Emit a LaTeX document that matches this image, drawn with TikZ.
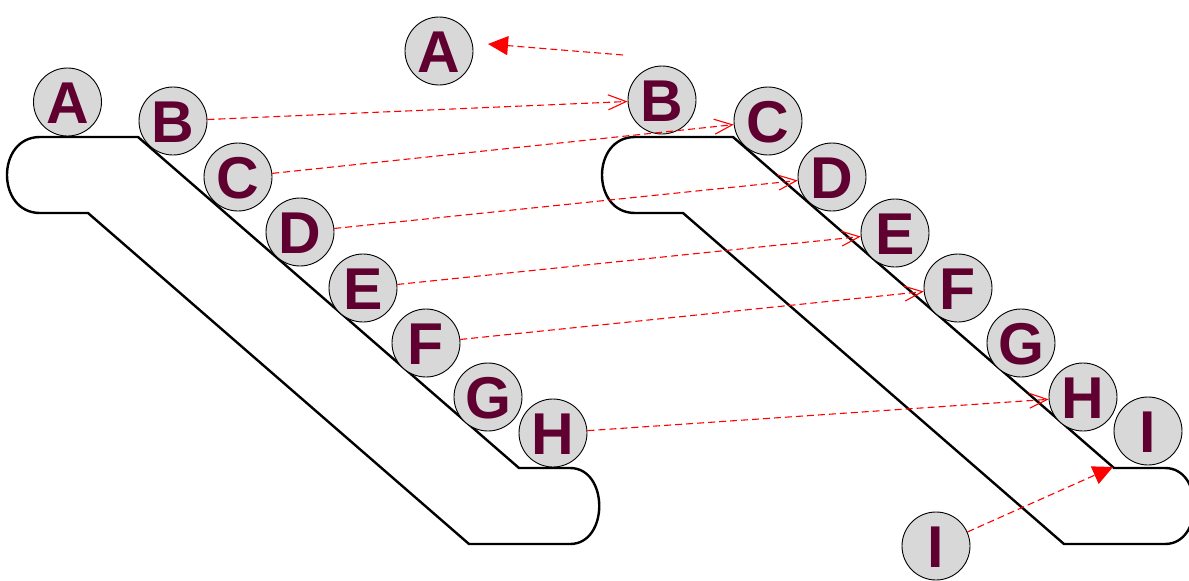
\documentclass[tikz,border=0pt]{standalone}
\usepackage{fontspec}
\setmainfont{Liberation Sans}
\usetikzlibrary{arrows.meta}
\definecolor{letter}{RGB}{96,0,48}
\definecolor{ballfill}{RGB}{216,216,216}
\tikzset{
  ball/.style={circle, draw=black, line width=0.9pt, fill=ballfill,
    minimum size=68pt, inner sep=0pt, text=letter,
    font=\fontsize{59}{59}\selectfont\bfseries,
    text height=42pt, text depth=0pt},
  rail/.style={draw=black, line width=2.4pt, line join=miter},
  move/.style={draw=red, line width=1.1pt, dash pattern=on 7pt off 4pt,
    -{Straight Barb[length=18pt,width=15pt,line width=1.1pt]}},
  jump/.style={draw=red, line width=1.1pt, dash pattern=on 7pt off 4pt,
    -{Triangle[length=20pt,width=19pt]}}
}
\begin{document}
\begin{tikzpicture}[x=1pt,y=-1pt]
\useasboundingbox (0,0) rectangle (1189,581);

% escalator outline (left), repeated shifted to the right
\foreach \dx in {0,595}{
  \begin{scope}[shift={(\dx,0)}]
    \draw[rail] (40,137) -- (138,137) -- (519,468) -- (570,468)
      .. controls (609,468) and (609,544) .. (570,544) -- (469,544)
      -- (88,213) -- (40,213)
      .. controls (-4,213) and (-4,137) .. (40,137) -- cycle;
  \end{scope}
}

% steps before the move
\node[ball] (A) at (67.5,102) {A};
\node[ball] (B) at (173,121) {B};
\node[ball] (C) at (238,177) {C};
\node[ball] (D) at (300,232) {D};
\node[ball] (E) at (363,288) {E};
\node[ball] (F) at (426,343) {F};
\node[ball] (G) at (488,397) {G};
\node[ball] (H) at (553,433) {H};

% steps after the move
\node[ball] (A2) at (439,51) {A};
\node[ball] (B2) at (662,100) {B};
\node[ball] (C2) at (768,121) {C};
\node[ball] (D2) at (832,177) {D};
\node[ball] (E2) at (895,233) {E};
\node[ball] (F2) at (958,288) {F};
\node[ball] (G2) at (1021,343) {G};
\node[ball] (H2) at (1083,397) {H};
\node[ball] (I2) at (1148,431) {I};
\node[ball] (I) at (936,546) {I};

% free ends of the two jump arrows
\coordinate (Aout) at (623,55);
\coordinate (Atip) at (488,44);
\coordinate (Itip) at (1113,467);

% moves of the shifted steps
\draw[move] (B) -- (B2);
\draw[move] (C) -- (C2);
\draw[move] (D) -- (D2);
\draw[move] (E) -- (E2);
\draw[move] (F) -- (F2);
\draw[move] (H) -- (H2);
\draw[jump] (Aout) -- (Atip);
\draw[jump] (I) -- (Itip);
\end{tikzpicture}
\end{document}
